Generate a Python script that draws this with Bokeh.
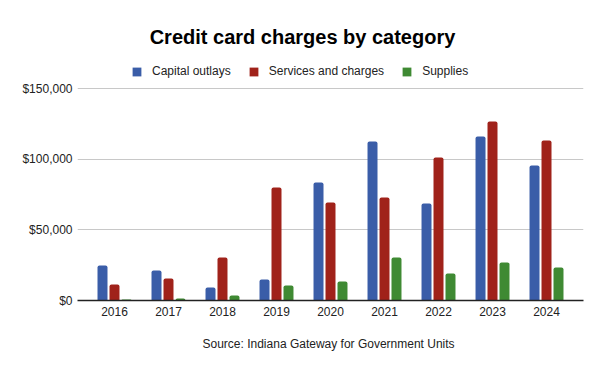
from bokeh.plotting import figure
from bokeh.models import (ColumnDataSource, FactorRange, Range1d, FixedTicker,
                          NumeralTickFormatter, Legend, LegendItem, Title, Label)
from bokeh.transform import dodge
from bokeh.embed import file_html
from bokeh.resources import INLINE

years = ["2016", "2017", "2018", "2019", "2020", "2021", "2022", "2023", "2024"]
capital_outlays = [24800, 21200, 9200, 14900, 83500, 112500, 68600, 116000, 95500]
services_and_charges = [11300, 15600, 30400, 80000, 69300, 72900, 101200, 126600, 113200]
supplies = [700, 1400, 3500, 10600, 13400, 30400, 19100, 26900, 23300]
y_ticks = [0, 50000, 100000, 150000]

title_text = "Credit card charges by category"
source_text = "Source: Indiana Gateway for Government Units"
series_names = ["Capital outlays", "Services and charges", "Supplies"]
colors = ["#3a5da8", "#a0221a", "#3f8a33"]

FONT = "Liberation Sans"

src = ColumnDataSource(dict(year=years, cap=capital_outlays,
                            svc=services_and_charges, sup=supplies))

# frame spans from the top of the canvas down to the baseline; 150,000 sits 212px above $0
p = figure(width=600, height=371, output_backend="svg", toolbar_location=None,
           title_location=None,
           x_range=FactorRange(*years, range_padding=0.185, range_padding_units="absolute"),
           y_range=Range1d(0, 150000 * 300 / 212),
           min_border_left=77, min_border_right=17, min_border_top=0,
           min_border_bottom=71)
p.outline_line_color = None
p.background_fill_color = "white"
p.border_fill_color = "white"

bw = 0.185
off = 0.222
renderers = []
for col, shift, color in zip(["cap", "svc", "sup"], [-off, 0, off], colors):
    r = p.vbar(x=dodge("year", shift, range=p.x_range), top=col, width=bw,
               source=src, fill_color=color, line_color=None,
               border_radius=(2, 2, 0, 0))
    renderers.append(r)

# axes
p.yaxis.ticker = FixedTicker(ticks=y_ticks)
p.yaxis.formatter = NumeralTickFormatter(format="$0,0")
p.yaxis.axis_line_color = None
p.yaxis.major_tick_line_color = None
p.yaxis.minor_tick_line_color = None
p.yaxis.major_tick_out = 0
p.yaxis.major_tick_in = 0
p.yaxis.major_label_standoff = 5
p.yaxis.major_label_text_font = FONT
p.yaxis.major_label_text_font_size = "12px"
p.yaxis.major_label_text_color = "#222222"

p.xaxis.axis_line_color = "#222222"
p.xaxis.axis_line_width = 1.5
p.xaxis.major_tick_line_color = None
p.xaxis.minor_tick_line_color = None
p.xaxis.major_tick_out = 0
p.xaxis.major_tick_in = 0
p.xaxis.major_label_standoff = 6
p.xaxis.major_label_text_font = FONT
p.xaxis.major_label_text_font_size = "12px"
p.xaxis.major_label_text_color = "#222222"

p.xgrid.grid_line_color = None
p.ygrid.grid_line_color = "#c8c8c8"
p.ygrid.grid_line_width = 1

legend = Legend(items=[LegendItem(label=n, renderers=[r]) for n, r in zip(series_names, renderers)],
                orientation="horizontal", location=(54, 219),
                glyph_width=11, glyph_height=11, label_standoff=10, spacing=17,
                padding=0, margin=0, border_line_color=None, background_fill_alpha=0,
                label_text_font=FONT, label_text_font_size="12px",
                label_text_color="#222222", label_height=20)
p.add_layout(legend)

p.add_layout(Label(x=225, y=264, x_units="screen", y_units="screen", text=title_text,
                   text_align="center", text_baseline="middle", text_font=FONT,
                   text_font_size="20px", text_font_style="bold", text_color="#000000"))

p.add_layout(Title(text=source_text, align="left", offset=125, vertical_align="top",
                   standoff=36, text_font=FONT, text_font_size="12px",
                   text_font_style="normal", text_color="#222222"), "below")

open("out.html", "w").write(file_html(p, INLINE))
